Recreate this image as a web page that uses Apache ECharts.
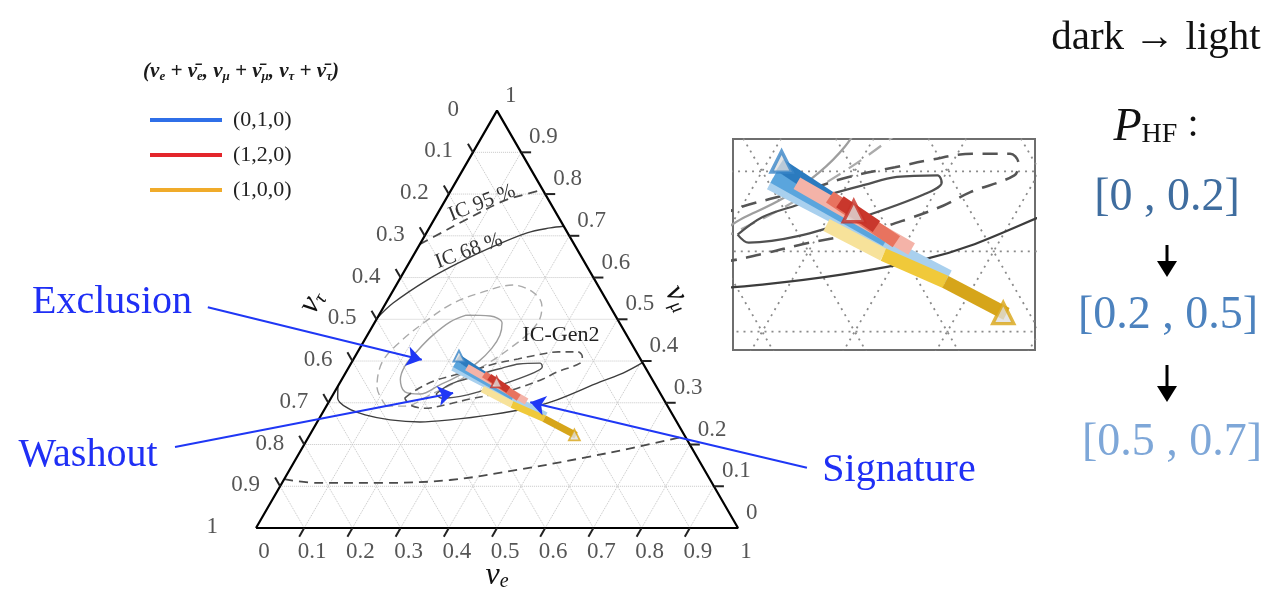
<!DOCTYPE html>
<html>
<head>
<meta charset="utf-8">
<script src="https://cdn.jsdelivr.net/npm/echarts@6/dist/echarts.min.js"></script>
<style>
  html, body { margin: 0; background: #fff; }
  #main { width: 1286px; height: 593px; }
</style>
</head>
<body>
<div id="main"></div>
<script>
// ternary points are [nu_e, nu_mu]  (nu_tau = 1 - nu_e - nu_mu)
const tickSteps = [0.1, 0.2, 0.3, 0.4, 0.5, 0.6, 0.7, 0.8, 0.9];
const tickValues = [0, 0.1, 0.2, 0.3, 0.4, 0.5, 0.6, 0.7, 0.8, 0.9, 1];
const tickText = ['0', '0.1', '0.2', '0.3', '0.4', '0.5', '0.6', '0.7', '0.8', '0.9', '1'];

// IceCube (current) contours
const ic95Upper = [[0, 0.68], [0.033, 0.709], [0.062, 0.735], [0.121, 0.783], [0.155, 0.798], [0.19, 0.81]];
const ic95Lower = [[0, 0.117], [0.073, 0.108], [0.21, 0.108], [0.345, 0.115], [0.472, 0.139], [0.595, 0.168], [0.686, 0.192], [0.78, 0.22]];
const ic68Upper = [[0, 0.503], [0.015, 0.539], [0.058, 0.594], [0.105, 0.637], [0.15, 0.671], [0.209, 0.707], [0.251, 0.719], [0.277, 0.723]];
const ic68Lower = [[0, 0.34], [0.014, 0.311], [0.047, 0.287], [0.091, 0.271], [0.149, 0.259], [0.213, 0.254], [0.273, 0.259], [0.35, 0.271], [0.43, 0.29], [0.471, 0.307], [0.539, 0.35], [0.576, 0.371], [0.604, 0.396]];
// IC-Gen2 contours
const gen2LightSolid = [[0.181, 0.51], [0.232, 0.508], [0.265, 0.491], [0.275, 0.462], [0.274, 0.431], [0.262, 0.398], [0.24, 0.367], [0.21, 0.343], [0.18, 0.321], [0.146, 0.326], [0.122, 0.355], [0.115, 0.388], [0.123, 0.426], [0.136, 0.462], [0.156, 0.494], [0.181, 0.51]];
const gen2LightDashed = [[0.124, 0.292], [0.082, 0.338], [0.063, 0.398], [0.076, 0.446], [0.104, 0.494], [0.138, 0.537], [0.183, 0.563], [0.242, 0.582], [0.292, 0.565], [0.326, 0.534], [0.338, 0.503], [0.334, 0.47], [0.314, 0.434], [0.287, 0.398], [0.246, 0.355], [0.202, 0.319], [0.163, 0.292], [0.124, 0.292]];
const gen2DarkSolid = [[0.213, 0.321], [0.229, 0.343], [0.257, 0.357], [0.287, 0.371], [0.319, 0.383], [0.349, 0.393], [0.392, 0.395], [0.401, 0.386], [0.389, 0.371], [0.337, 0.343], [0.279, 0.319], [0.23, 0.311], [0.213, 0.321]];
const gen2DarkDashed = [[0.153, 0.311], [0.164, 0.328], [0.193, 0.352], [0.23, 0.367], [0.265, 0.379], [0.297, 0.393], [0.341, 0.405], [0.374, 0.414], [0.416, 0.422], [0.457, 0.422], [0.472, 0.41], [0.475, 0.395], [0.438, 0.374], [0.417, 0.357], [0.386, 0.34], [0.354, 0.326], [0.289, 0.309], [0.252, 0.297], [0.207, 0.287], [0.172, 0.295], [0.153, 0.311]];

// flavour at Earth for each source, P_HF bins [0,0.2] [0.2,0.5] [0.5,0.7]
const sources = ['(0,1,0)', '(1,2,0)', '(1,0,0)'];
const blueDark = [[0.215, 0.408], [0.313, 0.354]];
const blueMid = [[0.216, 0.393], [0.377, 0.314]];
const blueLight = [[0.216, 0.385], [0.467, 0.269]];
const redDark = [[0.303, 0.362], [0.358, 0.331]];
const redMid = [[0.289, 0.368], [0.389, 0.312]];
const redLight = [[0.245, 0.385], [0.41, 0.303]];
const yellowDark = [[0.553, 0.222], [0.467, 0.262]];
const yellowMid = [[0.467, 0.262], [0.383, 0.296]];
const yellowLight = [[0.383, 0.296], [0.303, 0.333]];
const sourceStart = [[0.215, 0.412], [0.324, 0.35], [0.549, 0.223]];

const phfRanges = ['[0 , 0.2]', '[0.2 , 0.5]', '[0.5 , 0.7]'];

// annotation arrows in triangle-plane coords [tail, tip]
const exclusionArrow = [[-0.1, 0.458], [0.344, 0.349]];
const washoutArrow = [[-0.168, 0.168], [0.409, 0.28]];
const signatureArrow = [[1.143, 0.125], [0.569, 0.261]];

// ---- layout ----
const W = 1286, H = 593;
const OX = 256, BASE = 528, SIDE = 482;
const INSET = { left: 733, top: 139, width: 302, height: 211 };
const INSET_X = [0.3685, 0.6948];
const INSET_Y = [0.1533, 0.3813];

const SQ = Math.sqrt(3) / 2;
const toXY = p => [p[0] + p[1] / 2, p[1] * SQ];
const SERIF = 'Liberation Serif';

const series = [];
function path(xyPts, grid, color, width, type, extra) {
  series.push(Object.assign({
    type: 'line', xAxisIndex: grid, yAxisIndex: grid, data: xyPts,
    symbol: 'none', silent: true, clip: true, z: 2,
    lineStyle: { color: color, width: width, type: type, cap: 'butt' }
  }, extra || {}));
}

const contourStyles = [
  [ic95Upper, '#4a4a4a', [9, 6], 1.8],
  [ic95Lower, '#4a4a4a', [9, 6], 1.8],
  [ic68Upper, '#3c3c3c', 'solid', 1.4],
  [ic68Lower, '#3c3c3c', 'solid', 1.4],
  [gen2LightDashed, '#ababab', [8, 5], 1.4],
  [gen2LightSolid, '#9e9e9e', 'solid', 1.4],
  [gen2DarkDashed, '#555', [8, 5], 1.6],
  [gen2DarkSolid, '#505050', 'solid', 1.4]
];
const bandStyles = [
  [blueLight, '#a9d0ee', 0], [blueMid, '#5aa5dd', 0], [blueDark, '#2b7bbf', 0],
  [redLight, '#f4b3a8', 1], [redMid, '#e8735f', 1], [redDark, '#c9372c', 1],
  [yellowLight, '#f7e29a', 2], [yellowMid, '#f0c93a', 2], [yellowDark, '#d6a51a', 2]
];
const markerColors = ['#3a86c8', '#c83228', '#d9a514'];

const gridSegs = [];
tickSteps.forEach(t => {
  gridSegs.push([toXY([0, t]), toXY([1 - t, t])]);
  gridSegs.push([toXY([t, 0]), toXY([t, 1 - t])]);
  gridSegs.push([toXY([1 - t, 0]), toXY([0, 1 - t])]);
});

[{ g: 0, k: 1 }, { g: 1, k: 1.9 }].forEach(({ g, k }) => {
  gridSegs.forEach(s => path(s, g, g ? '#8a8a8a' : '#c6c6c6', g ? 1.8 : 1, g ? [2, 5] : 'dotted', { z: 1 }));
  path([[0, 0], [1, 0], [0.5, SQ], [0, 0]], g, '#000', 2.2, 'solid', { z: 3 });
  contourStyles.forEach(([pts, c, dash, w]) => {
    const d = Array.isArray(dash) ? dash.map(v => v * k) : dash;
    path(pts.map(toXY), g, c, w * (g ? 1.6 : 1), d, { smooth: 0.35 });
  });
  bandStyles.forEach(([pts, c, s]) => {
    path(pts.map(toXY), g, c, 7 * k, 'solid', { name: sources[s], z: 4, color: c });
  });
  series.push({
    type: 'scatter', xAxisIndex: g, yAxisIndex: g, silent: true, z: 5,
    symbol: 'triangle', symbolSize: 11 * k,
    data: sourceStart.map((p, i) => ({
      value: toXY(p),
      itemStyle: { color: '#dedede', borderColor: markerColors[i], borderWidth: 1.8 * k }
    }))
  });
});

// ticks
const TL = 10 / SIDE;
const tickSegs = [];
tickSteps.forEach(t => {
  const b = toXY([t, 0]); tickSegs.push([b, [b[0] - 0.5 * TL, b[1] - SQ * TL]]);
  const r = toXY([1 - t, t]); tickSegs.push([r, [r[0] + TL, r[1]]]);
  const l = toXY([0, 1 - t]); tickSegs.push([l, [l[0] - 0.5 * TL, l[1] + SQ * TL]]);
});
tickSegs.forEach(s => path(s, 0, '#222', 2, 'solid', { z: 3 }));

// tick labels
const labelFont = { fontFamily: SERIF, fontSize: 23, color: '#2a2a2a' };
function labelSeries(pts, label) {
  series.push({
    type: 'scatter', xAxisIndex: 0, yAxisIndex: 0, silent: true, symbolSize: 0,
    itemStyle: { color: 'transparent' },
    label: Object.assign({ show: true, formatter: p => p.value[2] }, labelFont, label),
    data: pts
  });
}
labelSeries(tickValues.map((v, i) => [...toXY([v, 0]), tickText[i]]),
  { position: 'bottom', distance: 12, offset: [8, 0] });
labelSeries(tickValues.map((v, i) => [...toXY([1 - v, v]), tickText[i]]),
  { position: 'right', distance: 8, offset: [0, -15] });
labelSeries(tickValues.map((v, i) => ({
  value: [...toXY([0, 1 - v]), tickText[i]],
  label: { distance: (v === 0 || v === 1) ? 38 : 20 }
})), { position: 'left', offset: [0, -1] });

// annotation arrows
series.push({
  type: 'line', xAxisIndex: 0, yAxisIndex: 0, data: [], silent: true, z: 6,
  markLine: {
    silent: true, symbol: ['none', 'arrow'], symbolSize: 15, animation: false,
    label: { show: false },
    lineStyle: { color: '#1f37f5', width: 2, type: 'solid' },
    data: [exclusionArrow, washoutArrow, signatureArrow].map(a => [{ coord: a[0] }, { coord: a[1] }])
  }
});

// ---- texts ----
const graphics = [];
function txt(x, y, style, rot) {
  graphics.push({
    type: 'text', x: x, y: y, rotation: rot || 0, silent: true, z: 10,
    style: Object.assign({ align: 'center', verticalAlign: 'middle', fill: '#000', fontFamily: SERIF }, style)
  });
}
function nuRich(size, sub) {
  return {
    a: { fontFamily: SERIF, fontStyle: 'italic', fontSize: size, lineHeight: size, verticalAlign: 'top', fill: '#111' },
    s: { fontFamily: SERIF, fontStyle: 'italic', fontSize: sub, lineHeight: sub * 0.6, verticalAlign: 'bottom', fill: '#111' }
  };
}
txt(497, 576, { text: '{a|ν}{s|e}', rich: nuRich(32, 20) });
txt(312, 302, { text: '{a|ν}{s|τ}', rich: nuRich(32, 20) }, Math.PI / 3);
txt(678, 298, { text: '{a|ν}{s|μ}', rich: nuRich(32, 20) }, -Math.PI / 3);

txt(241, 72, {
  text: '{t|(ν}{s|e}{t| + ν̄}{s|e}{t|, ν}{s|μ}{t| + ν̄}{s|μ}{t|, ν}{s|τ}{t| + ν̄}{s|τ}{t|)}',
  rich: {
    t: { fontFamily: SERIF, fontStyle: 'italic', fontWeight: 'bold', fontSize: 21, lineHeight: 22, verticalAlign: 'top', fill: '#1a1a1a' },
    s: { fontFamily: SERIF, fontStyle: 'italic', fontWeight: 'bold', fontSize: 13, lineHeight: 9, verticalAlign: 'bottom', fill: '#1a1a1a' }
  }
});

txt(482, 203, { text: 'IC 95 %', fontSize: 21, fill: '#333' }, 0.38);
txt(469, 251, { text: 'IC 68 %', fontSize: 21, fill: '#333' }, 0.35);
txt(561, 335, { text: 'IC-Gen2', fontSize: 22, fill: '#222' });

txt(112, 302, { text: 'Exclusion', fontSize: 40, fill: '#1f2ff5' });
txt(88, 455, { text: 'Washout', fontSize: 40, fill: '#1f2ff5' });
txt(899, 470, { text: 'Signature', fontSize: 40, fill: '#1f2ff5' });

txt(1156, 38, { text: 'dark → light', fontSize: 41, fill: '#111' });
txt(1156, 127, {
  text: '{p|P}{s|HF}{c| :}',
  rich: {
    p: { fontFamily: SERIF, fontStyle: 'italic', fontSize: 46, lineHeight: 44, verticalAlign: 'top', fill: '#111' },
    s: { fontFamily: SERIF, fontSize: 28, lineHeight: 22, verticalAlign: 'bottom', fill: '#111' },
    c: { fontFamily: SERIF, fontSize: 40, lineHeight: 44, verticalAlign: 'top', fill: '#111' }
  }
});
const phfColors = ['#3f6d9f', '#4c82be', '#7ea7d8'];
const phfY = [198, 316, 443];
const phfX = [1167, 1168, 1172];
phfRanges.forEach((r, i) => txt(phfX[i], phfY[i], { text: r, fontSize: 46, fill: phfColors[i] }));
[[245, 277], [365, 402]].forEach(([y0, y1]) => {
  graphics.push({ type: 'line', silent: true, shape: { x1: 1167, y1: y0, x2: 1167, y2: y1 - 12 }, style: { stroke: '#000', lineWidth: 3 } });
  graphics.push({ type: 'polygon', silent: true, shape: { points: [[1157, y1 - 16], [1177, y1 - 16], [1167, y1]] }, style: { fill: '#000' } });
});

const chart = echarts.init(document.getElementById('main'), null, { renderer: 'canvas' });
chart.setOption({
  animation: false,
  backgroundColor: '#fff',
  grid: [
    { left: 0, top: 0, width: W, height: H, show: false },
    Object.assign({ show: true, borderColor: '#6e6e6e', borderWidth: 2, backgroundColor: '#fff', z: 0 }, INSET)
  ],
  xAxis: [
    { type: 'value', gridIndex: 0, min: -OX / SIDE, max: (W - OX) / SIDE, show: false },
    { type: 'value', gridIndex: 1, min: INSET_X[0], max: INSET_X[1], show: false }
  ],
  yAxis: [
    { type: 'value', gridIndex: 0, min: -(H - BASE) / SIDE, max: BASE / SIDE, show: false },
    { type: 'value', gridIndex: 1, min: INSET_Y[0], max: INSET_Y[1], show: false }
  ],
  legend: {
    orient: 'vertical', left: 145, top: 103, itemWidth: 72, itemHeight: 4, itemGap: 11,
    icon: 'rect', selectedMode: false,
    textStyle: { fontFamily: SERIF, fontSize: 22, lineHeight: 24, color: '#222', padding: [0, 0, 0, 6] },
    data: [
      { name: sources[0], itemStyle: { color: '#2f6fe8' } },
      { name: sources[1], itemStyle: { color: '#e3262b' } },
      { name: sources[2], itemStyle: { color: '#f0ab2a' } }
    ]
  },
  graphic: { elements: graphics },
  series: series
});
</script>
</body>
</html>
